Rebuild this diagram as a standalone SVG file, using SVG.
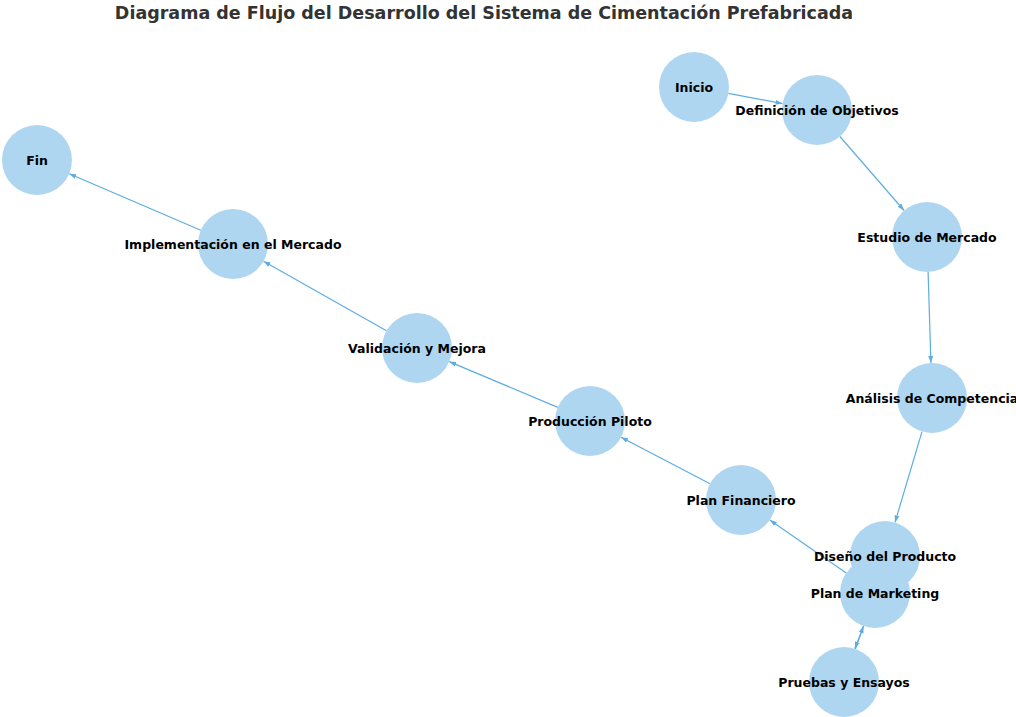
<svg xmlns="http://www.w3.org/2000/svg" width="1016" height="717" viewBox="0 0 1016 717">
<style>
.n{fill:#AED6F1}
.e{stroke:#5DADE2;stroke-width:1.2;fill:none;marker-end:url(#ah)}
.t{font-family:"DejaVu Sans",sans-serif;font-weight:bold;font-size:12.5px;fill:#000;text-anchor:middle;dominant-baseline:central}
.title{font-family:"DejaVu Sans",sans-serif;font-weight:bold;font-size:17.5px;fill:#333;text-anchor:middle}
</style>
<defs>
<marker id="ah" viewBox="0 0 10 10" refX="10" refY="5" markerWidth="7" markerHeight="7" markerUnits="userSpaceOnUse" orient="auto">
<path d="M0,1.5 L10,5 L0,8.5 z" fill="#5DADE2"/>
</marker>
</defs>
<rect width="1016" height="717" fill="#fff"/>
<text class="title" x="484" y="19">Diagrama de Flujo del Desarrollo del Sistema de Cimentación Prefabricada</text>
<g id="edges">
<line class="e" x1="728.4" y1="93.4" x2="782.6" y2="103.6"/>
<line class="e" x1="839.9" y1="136.5" x2="904.1" y2="210.5"/>
<line class="e" x1="928.1" y1="272" x2="930.9" y2="363"/>
<line class="e" x1="922" y1="431.6" x2="895" y2="522.4"/>
<line class="e" x1="863.5" y1="626.1" x2="854.8" y2="648.7"/>
<line class="e" x1="855.5" y1="648.9" x2="863.5" y2="626.1"/>
<line class="e" x1="846.2" y1="573" x2="769.8" y2="520"/>
<line class="e" x1="710" y1="483.8" x2="621" y2="437.2"/>
<line class="e" x1="557.8" y1="407.4" x2="449.2" y2="361.6"/>
<line class="e" x1="386.5" y1="330.8" x2="263.5" y2="261.2"/>
<line class="e" x1="200.8" y1="230.2" x2="69.2" y2="173.8"/>
</g>
<g id="n_inicio"><circle class="n" cx="694" cy="87" r="35"/></g>
<g id="n_def"><circle class="n" cx="817" cy="110" r="35"/></g>
<g id="n_estudio"><circle class="n" cx="927" cy="237" r="35"/></g>
<g id="n_analisis"><circle class="n" cx="932" cy="398" r="35"/></g>
<g id="n_diseno"><circle class="n" cx="885" cy="556" r="35"/></g>
<g id="n_marketing"><circle class="n" cx="875" cy="593" r="35"/></g>
<g id="n_pruebas"><circle class="n" cx="844" cy="682" r="35"/></g>
<g id="n_financiero"><circle class="n" cx="741" cy="500" r="35"/></g>
<g id="n_produccion"><circle class="n" cx="590" cy="421" r="35"/></g>
<g id="n_validacion"><circle class="n" cx="417" cy="348" r="35"/></g>
<g id="n_implementacion"><circle class="n" cx="233" cy="244" r="35"/></g>
<g id="n_fin"><circle class="n" cx="37" cy="160" r="35"/></g>
<g id="labels">
<text class="t" x="694" y="87">Inicio</text>
<text class="t" x="817" y="110">Definición de Objetivos</text>
<text class="t" x="927" y="237">Estudio de Mercado</text>
<text class="t" x="932" y="398">Análisis de Competencia</text>
<text class="t" x="885" y="556">Diseño del Producto</text>
<text class="t" x="875" y="593">Plan de Marketing</text>
<text class="t" x="844" y="682">Pruebas y Ensayos</text>
<text class="t" x="741" y="500">Plan Financiero</text>
<text class="t" x="590" y="421">Producción Piloto</text>
<text class="t" x="417" y="348">Validación y Mejora</text>
<text class="t" x="233" y="244">Implementación en el Mercado</text>
<text class="t" x="37" y="160">Fin</text>
</g>
</svg>
